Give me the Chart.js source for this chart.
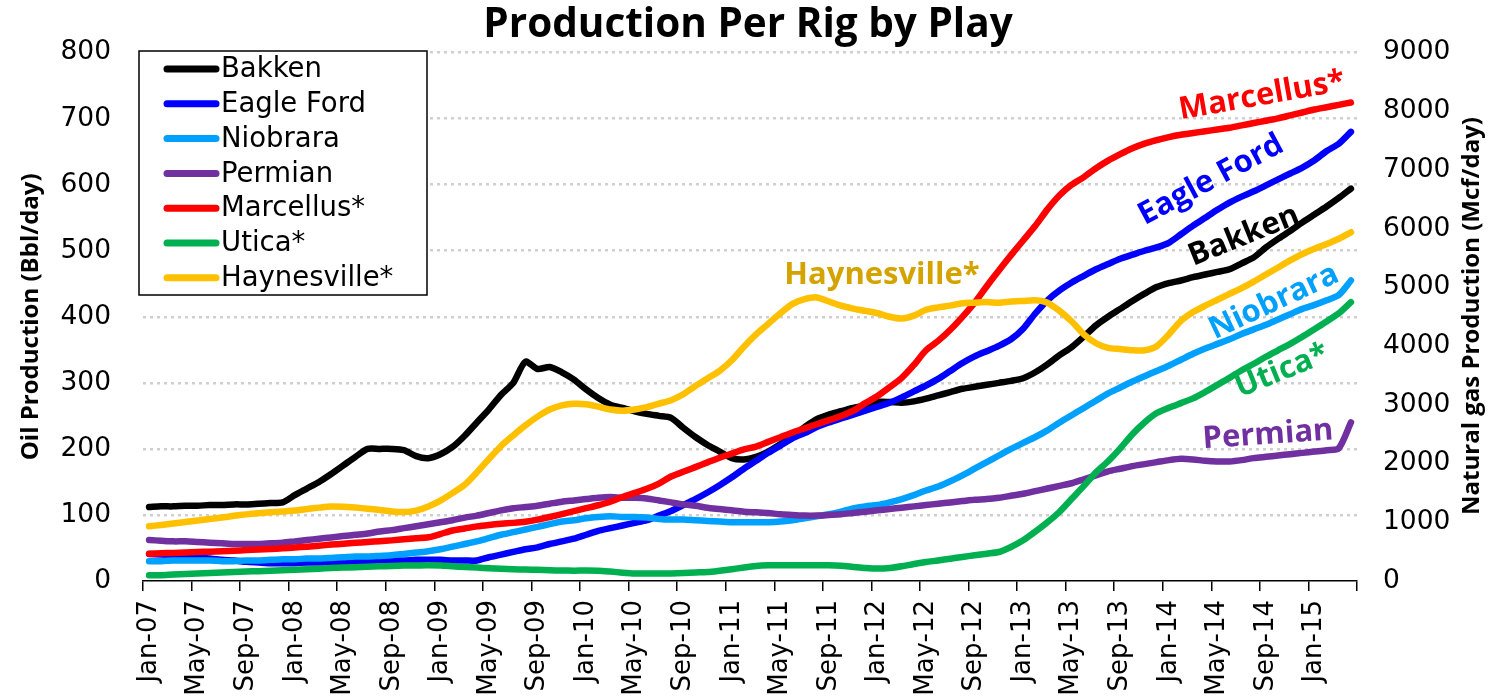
<!DOCTYPE html>
<html>
<head>
<meta charset="utf-8">
<script src="https://cdn.jsdelivr.net/npm/chart.js@4.4.1/dist/chart.umd.min.js"></script>
<style>
  html, body { margin: 0; padding: 0; background: #fff; }
  #wrap { width: 1496px; height: 699px; }
</style>
</head>
<body>
<div id="wrap"><canvas id="chart" width="1496" height="699"></canvas></div>
<script>
// monthly categories Jan-07 .. Apr-15
const monthNames = ['Jan', 'Feb', 'Mar', 'Apr', 'May', 'Jun', 'Jul', 'Aug', 'Sep', 'Oct', 'Nov', 'Dec']
const months = []
for (let y = 7; y <= 15; y++) {
    for (let m = 0; m < 12; m++) {
        if (y === 15 && m > 3) break
        months.push(monthNames[m] + '-' + String(y).padStart(2, '0'))
    }
}

// oil, Bbl/day (left axis)
const bakken = [112,113,113,114,114,115,115,116,116,117, 118,119,130,140,150,162,175,188,200,200,
    200,198,189,186,192,203,220,240,260,282, 300,332,321,324,316,305,290,277,267,262,
    257,253,250,247,232,218,206,196,186,184, 188,196,207,220,233,245,252,257,262,266,
    271,271,270,272,276,281,286,291,294,297, 300,303,307,316,328,342,354,370,387,400,
    412,424,435,445,451,455,460,464,468,472, 481,490,505,518,530,543,555,567,580,594]
const eagleFord = [41,40,39,37,36,34,32,31,29,28, 27,27,27,28,28,29,29,30,30,31,
    31,31,32,32,32,31,31,31,36,40, 44,48,51,56,60,64,70,76,80,84,
    88,92,99,106,115,124,134,145,157,170, 182,194,205,216,224,233,240,246,252,258,
    264,270,278,287,296,306,318,330,340,348, 356,366,382,405,425,440,452,462,472,480,
    488,494,500,505,512,525,538,550,562,573, 582,590,599,608,617,626,637,651,662,680]
const niobrara = [30,30,31,31,31,31,30,30,31,31, 32,33,33,34,34,35,36,37,37,38,
    39,41,43,45,48,52,56,60,65,70, 74,78,82,86,90,92,95,97,98,97,
    97,96,94,93,93,92,91,90,89,89, 89,89,90,92,95,98,101,105,110,113,
    115,119,124,130,137,143,151,160,170,180, 190,200,209,218,228,240,251,262,273,284,
    293,302,310,318,326,335,344,352,359,366, 374,381,388,396,404,412,418,425,433,455]
const permian = [62,61,60,60,59,58,57,56,56,56, 57,58,60,62,64,66,68,70,72,75,
    77,80,83,86,89,92,96,99,103,107, 110,112,114,117,120,122,124,126,127,126,
    126,125,122,119,116,114,111,109,107,105, 104,103,101,100,99,99,100,101,103,105,
    107,109,111,113,115,117,119,121,123,124, 126,129,132,136,140,144,148,154,160,166,
    170,174,177,180,183,185,184,182,181,181, 183,186,188,190,192,194,196,198,201,240]

// gas, Mcf/day (right axis)
const marcellus = [466,472,478,485,493,500,508,517,526,535, 545,556,570,585,602,620,635,650,664,678,
    692,710,728,745,800,860,895,930,955,975, 990,1010,1045,1090,1140,1190,1240,1290,1350,1430,
    1500,1570,1660,1780,1860,1940,2020,2100,2170,2240, 2290,2370,2450,2530,2600,2670,2740,2810,2900,3030,
    3150,3300,3460,3680,3930,4090,4280,4500,4740,5020, 5290,5550,5800,6050,6330,6570,6750,6880,7030,7160,
    7270,7370,7450,7510,7560,7600,7630,7660,7690,7720, 7760,7800,7840,7880,7930,7980,8030,8070,8110,8150]
const utica = [97,100,110,118,126,135,145,152,160,168, 175,182,190,200,210,220,228,236,244,250,
    256,262,265,268,262,250,238,228,216,208, 200,195,190,182,178,176,178,175,160,142,
    128,126,126,128,135,145,153,175,200,230, 255,267,270,270,268,267,267,258,240,222,
    211,220,250,290,323,350,380,410,437,465, 494,580,693,840,1000,1180,1400,1620,1850,2040,
    2260,2500,2700,2860,2950,3030,3110,3220,3340,3460, 3590,3700,3820,3930,4040,4160,4290,4420,4560,4750]
const haynesville = [931,955,980,1005,1030,1055,1080,1110,1135,1155, 1170,1185,1200,1225,1250,1270,1265,1250,1232,1210,
    1185,1175,1200,1270,1370,1500,1640,1850,2080,2300, 2480,2650,2800,2920,2990,3020,3010,2970,2920,2900,
    2920,2960,3020,3080,3180,3320,3450,3580,3760,3990, 4200,4380,4560,4720,4800,4830,4760,4690,4640,4600,
    4560,4500,4470,4520,4620,4660,4690,4730,4740,4750, 4740,4760,4770,4780,4740,4600,4420,4200,4050,3970,
    3950,3930,3930,4000,4200,4430,4580,4690,4790,4890, 4990,5100,5220,5340,5460,5570,5660,5740,5830,5940]

const seriesNames = ['Bakken', 'Eagle Ford', 'Niobrara', 'Permian', 'Marcellus*', 'Utica*', 'Haynesville*']
const seriesData = [bakken, eagleFord, niobrara, permian, marcellus, utica, haynesville]
const seriesAxis = ['y', 'y', 'y', 'y', 'y2', 'y2', 'y2']
const seriesColors = ['#000000', '#0000FF', '#00A0FF', '#7030A0', '#FF0000', '#00B050', '#FFC000']

// text labels drawn next to the line ends
const inlineLabels = [
    { text: 'Marcellus*', color: '#FF0000', x: 1262, y: 96, angle: -10 },
    { text: 'Eagle Ford', color: '#0000FF', x: 1211, y: 180, angle: -28 },
    { text: 'Bakken', color: '#000000', x: 1244, y: 236, angle: -22 },
    { text: 'Haynesville*', color: '#D4A300', x: 882, y: 275, angle: 0 },
    { text: 'Niobrara', color: '#00A0FF', x: 1274, y: 302, angle: -25 },
    { text: 'Utica*', color: '#00B050', x: 1282, y: 371, angle: -22 },
    { text: 'Permian', color: '#7030A0', x: 1268, y: 435, angle: -4 }
]

const decor = {
    id: 'decor',
    afterDatasetsDraw(chart) {
        const ctx = chart.ctx
        ctx.save()
        ctx.font = 'bold 31px "Open Sans"'
        ctx.textAlign = 'center'
        ctx.textBaseline = 'middle'
        inlineLabels.forEach(l => {
            ctx.save()
            ctx.translate(l.x, l.y)
            ctx.rotate(l.angle * Math.PI / 180)
            ctx.fillStyle = l.color
            ctx.fillText(l.text, 0, 0)
            ctx.restore()
        })
        ctx.restore()
    },
    afterDraw(chart) {
        const ctx = chart.ctx
        ctx.save()
        // legend box
        ctx.fillStyle = '#fff'
        ctx.fillRect(139, 51, 288, 244)
        ctx.strokeStyle = '#000'
        ctx.lineWidth = 1.5
        ctx.strokeRect(139, 51, 288, 244)
        ctx.font = '27.5px "DejaVu Sans"'
        ctx.textAlign = 'left'
        ctx.textBaseline = 'middle'
        chart.data.datasets.forEach((ds, i) => {
            const y = 69 + i * 34.8
            ctx.strokeStyle = ds.borderColor
            ctx.lineWidth = 7
            ctx.lineCap = 'round'
            ctx.beginPath()
            ctx.moveTo(167, y)
            ctx.lineTo(216, y)
            ctx.stroke()
            ctx.fillStyle = '#000'
            ctx.fillText(ds.label, 221, y + 1)
        })
        // right axis title, reads bottom to top like the left one
        ctx.translate(1472, 316)
        ctx.rotate(-Math.PI / 2)
        ctx.font = 'bold 24px "Open Sans"'
        ctx.textAlign = 'center'
        ctx.fillStyle = '#000'
        ctx.fillText('Natural gas Production (Mcf/day)', 0, 0)
        ctx.restore()
    }
}

Chart.defaults.font.family = '"DejaVu Sans", sans-serif'
Chart.defaults.color = '#000'

const chart = new Chart(document.getElementById('chart').getContext('2d'), {
    type: 'line',
    plugins: [decor],
    data: {
        labels: months,
        datasets: seriesNames.map((name, i) => ({
            label: name,
            data: seriesData[i],
            yAxisID: seriesAxis[i],
            borderColor: seriesColors[i],
            backgroundColor: seriesColors[i],
            borderWidth: 6.5,
            borderCapStyle: 'round',
            borderJoinStyle: 'round',
            pointRadius: 0,
            tension: 0.25,
            order: 6 - i
        }))
    },
    options: {
        responsive: false,
        animation: false,
        layout: { padding: 0 },
        scales: {
            x: {
                offset: true,
                grid: {
                    offset: true,
                    drawOnChartArea: false,
                    tickLength: 10,
                    lineWidth: 1.5,
                    color: c => (c.index === undefined || c.index % 4 === 0) ? '#000' : 'rgba(0,0,0,0)'
                },
                border: { display: true, color: '#000', width: 1.5 },
                ticks: {
                    autoSkip: false,
                    maxRotation: 90,
                    minRotation: 90,
                    padding: 9,
                    font: { size: 26 },
                    callback: (v, i) => i % 4 === 0 ? months[i] : ''
                },
                afterFit: s => { s.height = 118 }
            },
            y: {
                position: 'left',
                min: 0,
                max: 800,
                ticks: { stepSize: 100, padding: 32, font: { size: 26.5 } },
                grid: {
                    drawTicks: false,
                    lineWidth: 2.5,
                    color: c => c.tick && c.tick.value === 0 ? 'rgba(0,0,0,0)' : '#CFCFCF'
                },
                border: { display: false, dash: [3, 4] },
                title: {
                    display: true,
                    text: 'Oil Production (Bbl/day)',
                    font: { family: '"Open Sans"', size: 24, weight: 'bold' },
                    padding: { top: 17, bottom: 0 }
                },
                afterFit: s => { s.width = 143 }
            },
            y2: {
                position: 'right',
                min: 0,
                max: 9000,
                ticks: {
                    stepSize: 1000,
                    padding: 26,
                    font: { size: 26.5 },
                    callback: v => String(v)
                },
                grid: { drawOnChartArea: false, drawTicks: false },
                border: { display: false },
                afterFit: s => { s.width = 139 }
            }
        },
        plugins: {
            legend: { display: false },
            tooltip: { enabled: false },
            title: {
                display: true,
                text: 'Production Per Rig by Play',
                font: { family: '"Open Sans"', size: 40.5, weight: 'bold' },
                color: '#000',
                padding: { top: 1, bottom: 3 }
            }
        }
    }
})
</script>
</body>
</html>
